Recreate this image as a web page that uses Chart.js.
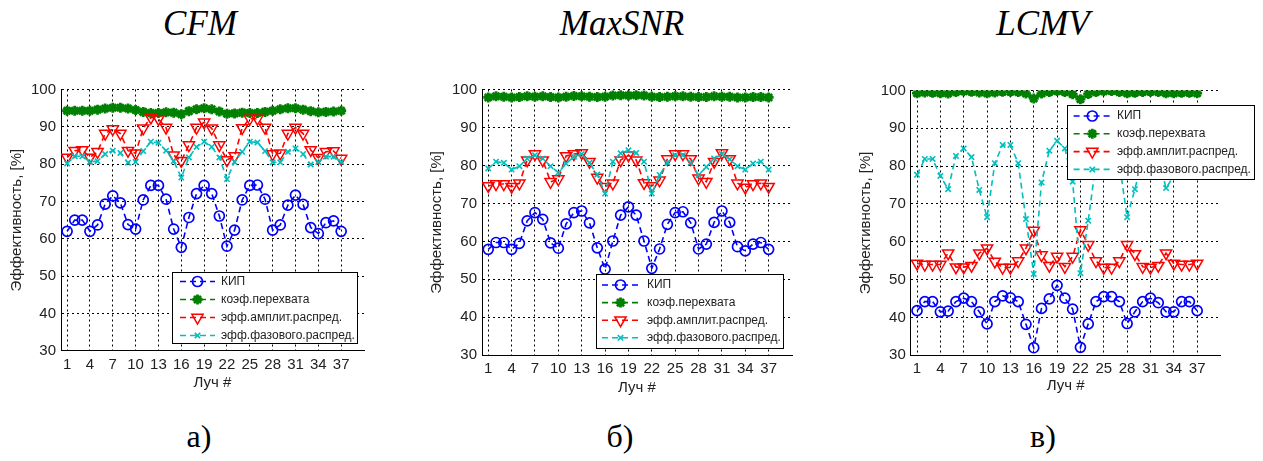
<!DOCTYPE html>
<html>
<head>
<meta charset="utf-8">
<script src="https://cdn.jsdelivr.net/npm/chart.js@4.4.1/dist/chart.umd.min.js"></script>
<style>
    body { margin: 0; background: #fff; width: 1263px; height: 461px; position: relative; overflow: hidden; }
    canvas { position: absolute; top: 60px; }
    .title { position: absolute; top: 6px; width: 240px; text-align: center;
             font: italic 35px "Liberation Serif", "Times New Roman", serif; line-height: 35px; color: #000; }
    .caption { position: absolute; top: 420px; width: 100px; text-align: center;
               font: 32px "Liberation Serif", "Times New Roman", serif; line-height: 32px; color: #000; }
</style>
</head>
<body>
<div class="title" style="left: 80px">CFM</div>
<div class="title" style="left: 502px">MaxSNR</div>
<div class="title" style="left: 923px">LCMV</div>

<canvas id="cfmChart" width="400" height="340" style="left: 0px"></canvas>
<canvas id="snrChart" width="400" height="340" style="left: 420px"></canvas>
<canvas id="lcmvChart" width="423" height="340" style="left: 840px"></canvas>

<div class="caption" style="left: 149px">а)</div>
<div class="caption" style="left: 570px">б)</div>
<div class="caption" style="left: 993px">в)</div>

<script>
// Данные: номер луча и эффективности, %
const beams = [1, 2, 3, 4, 5, 6, 7, 8, 9, 10, 11, 12, 13, 14, 15, 16, 17, 18, 19,
               20, 21, 22, 23, 24, 25, 26, 27, 28, 29, 30, 31, 32, 33, 34, 35, 36, 37];
const xTickValues = [1, 4, 7, 10, 13, 16, 19, 22, 25, 28, 31, 34, 37];
const legendLabels = ['КИП', 'коэф.перехвата', 'эфф.амплит.распред.', 'эфф.фазового.распред.'];

// CFM
const cfmKip = [62, 65, 65, 62, 63.7, 69.3, 71.5, 69.6, 63.8, 62.6, 70.4, 74.3, 74.3, 70.6, 62.6, 57.7, 65.7, 72.1, 74.3,
                72.1, 66.1, 58, 62.3, 70.4, 74.3, 74.4, 70.6, 62.3, 63.7, 69, 71.7, 69.2, 63, 61.4, 64.3, 64.8, 62];
const cfmIntercept = [94.3, 94.3, 94.3, 94.3, 94.6, 94.9, 95.1, 95.1, 94.9, 94.5, 94.0, 93.7, 93.7, 93.9, 93.8, 93.4, 94.2, 94.7, 95.0,
                      94.7, 94.1, 93.5, 93.6, 93.8, 93.7, 93.7, 94.0, 94.3, 94.7, 95.0, 95.0, 94.6, 94.2, 93.9, 94.0, 94.1, 94.3];
const cfmAmp = [81.8, 83.6, 83.8, 81.8, 83.3, 88.2, 89.4, 88.2, 83.6, 82.9, 89.6, 92.5, 92.1, 89.8, 82.4, 80.9, 85.1, 89.8, 91.2,
                89.6, 85.1, 81.1, 82.2, 89.7, 92.2, 92.2, 89.8, 82.7, 82.9, 88.2, 89.8, 88.2, 83.8, 81.7, 83.3, 83.5, 81.5];
const cfmPhase = [80.2, 82.1, 82.1, 80.6, 80.8, 82.7, 83.6, 83.0, 80.4, 80.6, 83.5, 86, 85.7, 83.6, 80.8, 76.4, 81.8, 84.6, 86,
                  84.6, 81.8, 76, 80.6, 83.3, 86, 85.8, 83.5, 80.5, 80.5, 83.3, 84.2, 82.7, 79.9, 80.6, 82, 82, 80.6];

// MaxSNR
const snrKip = [57.9, 59.7, 59.7, 57.9, 59.5, 65.4, 67.6, 65.8, 59.6, 58.2, 64.6, 67.6, 68, 64.9, 58.3, 52.7, 60.1, 66.9, 69.1,
                66.9, 60.1, 52.9, 58, 64.5, 67.6, 67.8, 64.9, 58, 59.3, 65, 68, 65, 58.6, 57.5, 59.3, 59.7, 57.9];
const snrIntercept = [97.9, 98.2, 98.1, 97.9, 98.0, 98.2, 98.1, 98.2, 98.0, 97.9, 98.1, 98.3, 98.2, 98.1, 98.0, 98.1, 98.4, 98.5, 98.4,
                      98.5, 98.4, 98.1, 98.0, 98.1, 98.2, 98.2, 98.1, 98.0, 98.0, 98.2, 98.1, 98.1, 97.9, 97.9, 98.0, 98.0, 97.9];
const snrAmp = [74.6, 75.1, 75.1, 74.4, 75.3, 81.4, 83, 81.4, 75.7, 76.4, 82.5, 83, 83.3, 81, 76.8, 74.4, 75.3, 81.4, 82.7,
                81.4, 75.4, 74.6, 76.1, 81.7, 83, 83, 81.7, 76.6, 75.7, 81, 83.3, 81.7, 75.3, 74.2, 75.1, 75.3, 74.4];
const snrPhase = [79.2, 81, 80.7, 78.9, 79.8, 81.8, 82.7, 81.8, 79.8, 78.1, 80.5, 82.3, 83, 80.7, 77.6, 72.6, 81, 83.2, 84,
                  83.3, 81, 72.6, 77.5, 80.7, 82.7, 82.7, 80.7, 77.5, 79.6, 81.8, 83, 81.6, 79.8, 78.9, 80.5, 81, 78.9];

// LCMV
const lcmvKip = [41.8, 44.2, 44.2, 41.5, 41.7, 44.2, 45.1, 44.2, 41.5, 38.3, 44.2, 45.7, 45.2, 44.2, 38.2, 32, 42.4, 44.9, 48.5,
                 45.1, 42.2, 32.1, 38.3, 44.2, 45.5, 45.5, 44.2, 38.4, 41.5, 44.2, 45.1, 43.9, 41.5, 41.5, 44.2, 44.2, 41.8];
const lcmvIntercept = [99.3, 99.5, 99.4, 99.3, 99.2, 99.6, 99.8, 99.7, 99.5, 99.3, 99.5, 99.7, 99.7, 99.6, 99.2, 97.9, 99.2, 99.6, 99.9,
                       99.6, 99.0, 97.7, 99.1, 99.6, 99.8, 99.9, 99.6, 99.3, 99.4, 99.6, 99.7, 99.6, 99.3, 99.3, 99.4, 99.4, 99.3];
const lcmvAmp = [54.3, 54, 54, 54, 57, 53.3, 53.3, 53.7, 57, 58.3, 54.8, 53.2, 53.2, 54.9, 58.3, 63, 56.5, 53.7, 56.1,
                 53.4, 56.1, 63.1, 59.2, 54.9, 53.2, 53.2, 54.9, 59.2, 56.8, 53.4, 53.2, 53.7, 57, 54.3, 54, 54, 54.3];
const lcmvPhase = [77.7, 81.9, 81.9, 77.4, 73.9, 82.7, 84.7, 82.4, 73.7, 66.5, 80.8, 85.6, 85.6, 80.8, 66, 51.5, 75.7, 84.1, 86.7,
                   84.7, 75.9, 51.7, 65.6, 80.8, 85.6, 85.6, 80.8, 66.5, 73.9, 82.4, 84.7, 82.7, 74.2, 77.4, 81.9, 81.9, 77.7];

const TEXT_COLOR = '#222';
const FONT = '"Liberation Sans", Arial, sans-serif';
const DASH = [6, 4];

// стили линий как в MATLAB: 'bo--', 'g*--', 'rv--', 'cx--'
const seriesStyles = [
    { color: '#0000ff', pointStyle: 'circle', radius: 5, rotation: 0, pointWidth: 1.7, order: 3 },
    { color: '#008000', pointStyle: 'star', radius: 5, rotation: 0, pointWidth: 2.8, order: 2 },
    { color: '#ff0000', pointStyle: 'triangle', radius: 6.5, rotation: 180, pointWidth: 1.5, order: 1 },
    { color: '#00bfbf', pointStyle: 'crossRot', radius: 3.8, rotation: 0, pointWidth: 1.6, order: 0 }
];

// Легенда в рамке внутри области графика
const boxLegend = {
    id: 'boxLegend',
    afterDatasetsDraw(chart, args, opts) {
        const ctx = chart.ctx;
        const b = opts.box;
        ctx.save();
        ctx.fillStyle = '#fff';
        ctx.fillRect(b.x, b.y, b.w, b.h);
        ctx.strokeStyle = '#000';
        ctx.lineWidth = 1;
        ctx.strokeRect(b.x + 0.5, b.y + 0.5, b.w, b.h);

        chart.data.datasets.forEach((ds, i) => {
            const st = seriesStyles[i];
            const y = b.y + opts.firstRow + i * opts.rowGap;
            const x0 = b.x + opts.lineFrom;
            const x1 = b.x + opts.lineTo;

            ctx.setLineDash(DASH);
            ctx.strokeStyle = st.color;
            ctx.lineWidth = 1.6;
            ctx.beginPath();
            ctx.moveTo(x0, y);
            ctx.lineTo(x1, y);
            ctx.stroke();
            ctx.setLineDash([]);

            ctx.strokeStyle = st.color;
            ctx.fillStyle = 'rgba(0,0,0,0)';
            ctx.lineWidth = st.pointWidth;
            Chart.helpers.drawPoint(ctx, {
                pointStyle: st.pointStyle,
                radius: st.radius,
                rotation: st.rotation,
                borderWidth: st.pointWidth
            }, (x0 + x1) / 2, y);

            ctx.fillStyle = TEXT_COLOR;
            ctx.font = '12px ' + FONT;
            ctx.textBaseline = 'middle';
            ctx.textAlign = 'left';
            ctx.fillText(legendLabels[i], b.x + opts.textX, y);
        });
        ctx.restore();
    }
};

function makeDatasets(seriesList) {
    return seriesList.map((values, i) => {
        const st = seriesStyles[i];
        return {
            label: legendLabels[i],
            data: beams.map((b, k) => ({ x: b, y: values[k] })),
            borderColor: st.color,
            borderWidth: 1.6,
            borderDash: DASH,
            fill: false,
            tension: 0,
            pointStyle: st.pointStyle,
            pointRadius: st.radius,
            pointRotation: st.rotation,
            pointBorderColor: st.color,
            pointBackgroundColor: 'rgba(0,0,0,0)',
            pointBorderWidth: st.pointWidth,
            order: st.order
        };
    });
}

function createPanel(canvasId, seriesList, p) {
    return new Chart(document.getElementById(canvasId), {
        type: 'line',
        data: { datasets: makeDatasets(seriesList) },
        plugins: [boxLegend],
        options: {
            responsive: false,
            animation: false,
            devicePixelRatio: 1,
            layout: { padding: { left: 0, top: p.top, right: p.right, bottom: 0 } },
            plugins: {
                legend: { display: false },
                tooltip: { enabled: false },
                boxLegend: p.legend
            },
            scales: {
                x: {
                    type: 'linear',
                    position: 'bottom',
                    min: 0.2,
                    max: 40,
                    afterBuildTicks: s => { s.ticks = xTickValues.map(v => ({ value: v })); },
                    afterFit: s => { s.height = p.xHeight; },
                    ticks: { autoSkip: false, maxRotation: 0, color: TEXT_COLOR, padding: 5,
                             font: { family: FONT, size: 15 } },
                    grid: { color: '#000', lineWidth: 1, drawTicks: false },
                    border: { display: true, color: '#000', width: 1, dash: [2, 3] },
                    title: { display: true, text: 'Луч #', color: TEXT_COLOR,
                             font: { family: FONT, size: 15 }, padding: { top: 0, bottom: p.xTitlePad } }
                },
                y: {
                    min: 30,
                    max: 100,
                    afterFit: s => { s.width = p.yWidth; },
                    ticks: { stepSize: 10, color: TEXT_COLOR, padding: 5,
                             font: { family: FONT, size: 15 } },
                    grid: { color: '#000', lineWidth: 1, drawTicks: false },
                    border: { display: true, color: '#000', width: 1, dash: [2, 3] },
                    title: { display: true, text: 'Эффективность, [%]', color: TEXT_COLOR,
                             font: { family: FONT, size: 15 }, padding: { top: p.yTitlePad, bottom: 0 } }
                }
            }
        }
    });
}

createPanel('cfmChart', [cfmKip, cfmIntercept, cfmAmp, cfmPhase], {
    top: 29.5, right: 36, xHeight: 49.3, xTitlePad: 8.6, yWidth: 61, yTitlePad: 8.3,
    legend: { box: { x: 172, y: 212, w: 185, h: 71 }, firstRow: 9.5, rowGap: 18, lineFrom: 8, lineTo: 43, textX: 49 }
});

createPanel('snrChart', [snrKip, snrIntercept, snrAmp, snrPhase], {
    top: 29.5, right: 28, xHeight: 44.7, xTitlePad: 3.6, yWidth: 62, yTitlePad: 7.9,
    legend: { box: { x: 176, y: 214, w: 187, h: 74 }, firstRow: 11, rowGap: 17.6, lineFrom: 6, lineTo: 43, textX: 51 }
});

createPanel('lcmvChart', [lcmvKip, lcmvIntercept, lcmvAmp, lcmvPhase], {
    top: 30.5, right: 42.5, xHeight: 44.7, xTitlePad: 4.9, yWidth: 70.8, yTitlePad: 16.6,
    legend: { box: { x: 227, y: 45, w: 187, h: 74 }, firstRow: 11, rowGap: 17.8, lineFrom: 6.6, lineTo: 44, textX: 50 }
});
</script>
</body>
</html>
